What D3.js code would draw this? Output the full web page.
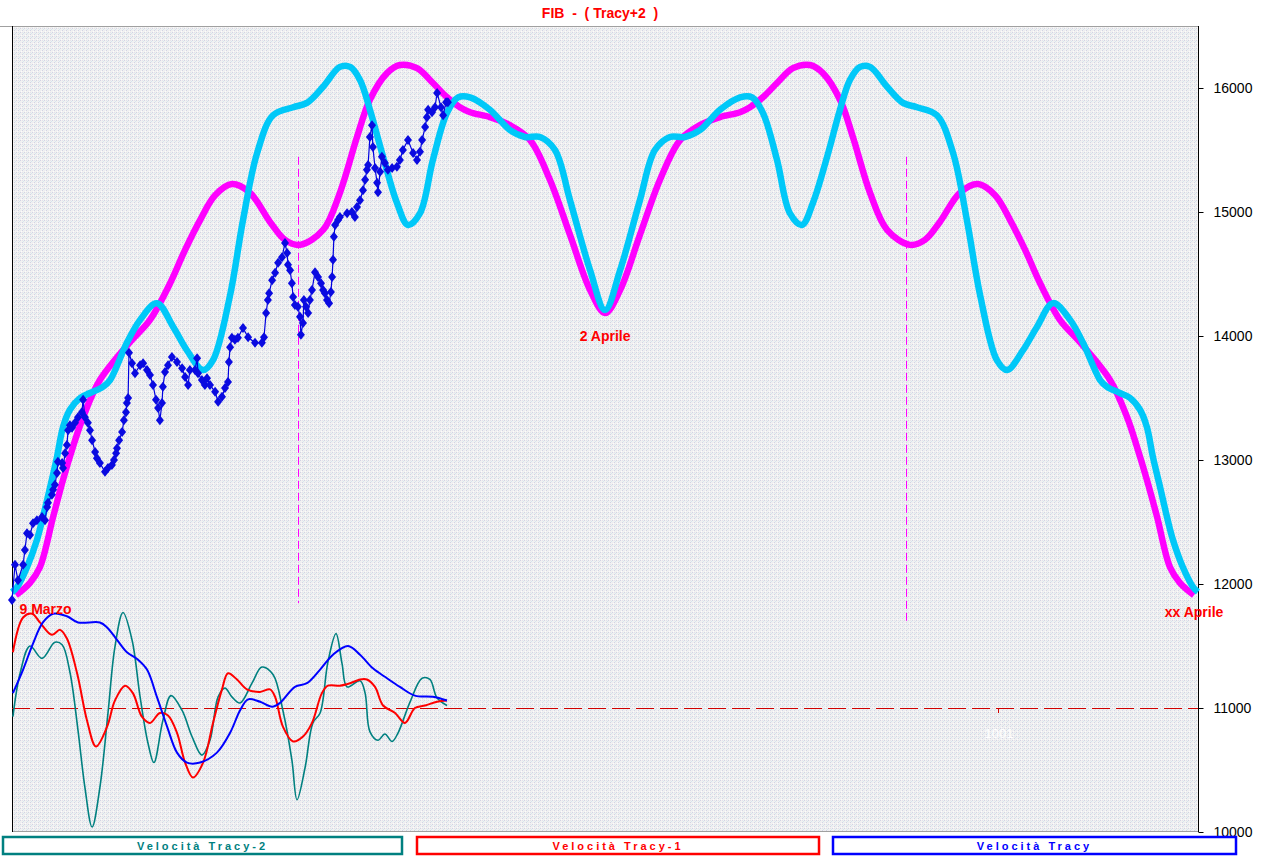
<!DOCTYPE html>
<html>
<head>
<meta charset="utf-8">
<script src="https://cdn.jsdelivr.net/npm/d3@7"></script>
<style>
  body { margin: 0; background: #fff; }
  svg { display: block; font-family: "Liberation Sans", Arial, sans-serif; }
</style>
</head>
<body>
<svg id="chart" width="1280" height="859"></svg>
<script>
// ---- data (t = session index, v = index points) ----
const magentaT = [1.3, 6, 9.3, 13.7, 17, 20.3, 23.7, 29.3, 39.3, 46, 52.7, 57.7, 62.7, 67.7, 73.3, 79.3, 86, 91, 96, 103.7, 109.3, 115, 119.3, 125, 129.3, 135, 140.3, 145, 149.3, 152.7, 159.3, 166, 172.7, 179.3, 186, 192.7, 197.7,
  202.7, 209.3, 216, 222.7, 229.3, 236, 242.7, 246, 250.3, 255, 260.3, 266, 270.3, 276, 280.3, 286, 291.7, 299.3, 304.3, 309.3, 316, 322, 327.7, 332.7, 337.7, 342.7, 349.3, 356, 366, 371.7, 375, 378.3, 381.7, 386, 389.3, 394];
const magentaV = [11910, 12010, 12135, 12540, 12840, 13105, 13345, 13645, 13950, 14130, 14425, 14695, 14935, 15135, 15225, 15155, 14920, 14775, 14735, 14855, 15155, 15605, 15905, 16120, 16185, 16160, 16040, 15925, 15845, 15805, 15765, 15700, 15580, 15260, 14815, 14370, 14185,
  14370, 14815, 15260, 15580, 15700, 15765, 15805, 15845, 15925, 16040, 16160, 16185, 16120, 15905, 15605, 15155, 14855, 14735, 14775, 14920, 15155, 15225, 15135, 14935, 14695, 14425, 14130, 13950, 13645, 13345, 13105, 12840, 12540, 12135, 12010, 11910];

const cyanT = [0, 1.7, 5, 8.3, 10.3, 12.7, 15, 17, 19.3, 22.7, 26, 30.3, 32.7, 38.3, 42.7, 48.3, 53.7, 58.3, 63.7, 67, 72.7, 77, 81.7, 87, 93.7, 98.3, 103.7, 109.3, 112.7, 116, 119.3, 123.7, 128.3, 132, 136, 140.3, 145, 148.7, 152.7, 159.3, 166, 171, 176, 181, 186, 192.7, 197.7,
  202.7, 209.3, 214.3, 219.3, 224.3, 229.3, 236, 242.7, 246.7, 250.3, 255, 259.3, 263.3, 267, 271.7, 276, 279.3, 282.7, 286, 291.7, 297, 301.7, 308.3, 313.7, 318.3, 322.7, 328.3, 331.7, 337, 341.7, 347, 352.7, 357, 362.7, 365, 369.3, 372.7, 376, 378.3, 380.3, 382.7, 385, 387, 390.3, 393.7, 395.3];
const cyanV = [11935, 11975, 12135, 12355, 12540, 12780, 13025, 13265, 13405, 13500, 13540, 13590, 13645, 13945, 14130, 14265, 14075, 13885, 13725, 13805, 14330, 14935, 15475, 15780, 15845, 15880, 16010, 16170, 16170, 16065, 15825, 15445, 15075, 14895, 14990, 15420, 15800, 15925, 15925, 15825, 15660, 15605, 15605, 15500, 15095, 14530, 14210,
  14530, 15095, 15500, 15605, 15605, 15660, 15825, 15925, 15925, 15800, 15420, 14990, 14895, 15075, 15445, 15825, 16065, 16170, 16170, 16010, 15880, 15845, 15780, 15475, 14935, 14330, 13805, 13725, 13885, 14075, 14265, 14130, 13945, 13645, 13590, 13540, 13500, 13405, 13265, 13025, 12780, 12540, 12355, 12135, 11975, 11935];

const fibT = [0, 1, 2, 3.7, 4.3, 5, 6, 7, 8.3, 10, 11, 11.7, 12, 13.3, 13.7, 14.3, 15, 15.3, 16.7, 17, 17.7, 18.3, 18.7, 19.3, 20, 21, 22, 23.3, 23.7, 24.3, 25.3, 26, 26.7, 27.7, 28.3, 29.3, 31, 32, 33.3, 34, 34.7, 35, 35.7, 36.7, 37.3, 38, 38.3, 38.7, 39,
  40, 41, 42.7, 43.7, 45, 46, 47, 48, 48.7, 49.3, 50, 50.3, 51, 52, 53.3, 55, 56.7, 57.7, 58.7, 59.3, 61, 61.7, 62, 63.3, 64.3, 65, 66, 67.7, 68.7, 70, 71, 72, 72.3, 72.7, 73.3, 74.3, 75.3, 77, 78.7, 81, 83.3, 84, 84.7, 85.3, 85.7, 86.7, 87.7, 88.7, 90, 91, 91.7, 92, 92.7, 93.3, 93.7, 94.3, 95.3, 96, 96.3, 97, 97.3, 98, 98.7, 99.3, 100,
  101, 102, 103, 103.7, 104.3, 105, 105.7, 106.3, 106.7, 107, 107.3, 107.7, 108.7, 109.3, 111.7, 113.3, 114.3, 115, 116, 117, 117.7, 118.3, 118.7, 119.3, 120, 120.3, 121, 121.7, 122, 122.7, 123.3, 124.3, 125.3, 126.7, 128.3, 129.3, 130.3, 132, 133.7, 135, 136, 136.7, 137.7, 138.3, 138.7, 140, 141, 141.7, 143, 143.7, 144.7, 145.3];
const fibV = [11870, 12155, 12030, 12155, 12275, 12410, 12395, 12490, 12515, 12540, 12515, 12620, 12655, 12720, 12760, 12800, 12895, 12985, 12975, 12935, 13055, 13120, 13240, 13280, 13260, 13300, 13345, 13385, 13485, 13345, 13300, 13240, 13160, 13065, 13015, 12975, 12905, 12935, 12960, 13000, 13055, 13095, 13160, 13225, 13320, 13385, 13460, 13500, 13865,
  13780, 13700, 13765, 13780, 13725, 13685, 13605, 13485, 13420, 13320, 13460, 13590, 13710, 13765, 13830, 13790, 13740, 13670, 13605, 13725, 13725, 13820, 13700, 13645, 13605, 13660, 13605, 13550, 13470, 13510, 13580, 13630, 13790, 13910, 13985, 13970, 13985, 14065, 13990, 13945, 13945, 13990, 14185, 14290, 14345, 14450, 14510, 14590, 14635, 14750, 14670, 14575, 14530, 14425, 14315, 14250, 14235, 14155, 14010, 14105, 14290, 14235, 14185, 14290, 14370,
  14515, 14475, 14425, 14370, 14345, 14290, 14265, 14355, 14475, 14615, 14800, 14895, 14935, 14960, 14990, 15000, 14960, 15040, 15095, 15175, 15260, 15340, 15380, 15605, 15700, 15525, 15355, 15235, 15160, 15325, 15445, 15395, 15340, 15355, 15365, 15420, 15500, 15580, 15475, 15420, 15485, 15580, 15685, 15765, 15825, 15805, 15845, 15960, 15845, 15780, 15885, 15885];

// velocity oscillators (zero = dashed line)
const velRedT = [0.3, 3.7, 6.7, 9.3, 13.3, 16, 18.3, 21.7, 25, 28, 31.7, 34.3, 37.7, 40.3, 43.3, 46, 49.3, 52, 55, 57.7, 60.3, 63.7, 67, 70, 72, 75, 78.3, 82.7, 86, 87.7, 90.3, 93.7, 97, 100, 103.3, 105.3, 109.3, 112.7, 116, 118.3, 121, 123.7, 127.7, 131, 134.3, 137.7, 141.7, 145];
const velRedV = [45, 73, 76, 69, 59, 63, 56, 28, -10, -31, -15, 6, 18, 12, -7, -12, -4, -6, -20, -44, -56, -44, -12, 15, 28, 23, 15, 13, 15, 9, -15, -27, -23, -12, 12, 18, 18, 20, 23, 23, 17, 2, -4, -12, 0, 2, 5, 6];
const velBlueT = [0.3, 3.7, 7, 10.3, 13.7, 18.3, 22, 29.3, 31.7, 35, 38.3, 42, 45, 48.3, 51.7, 55, 58.3, 62.7, 68.3, 72.7, 76, 78.7, 82.7, 86.7, 89.3, 94.3, 98.3, 102.7, 107, 112, 116, 120.3, 125, 129.3, 134.3, 140.3, 145];
const velBlueV = [12, 31, 52, 69, 76, 74, 69, 69, 65, 55, 45, 39, 31, 9, -15, -36, -44, -44, -36, -20, -2, 7, 5, 1, 4, 17, 20, 31, 43, 50, 43, 32, 24, 17, 10, 9, 6];
const velTealT = [0.3, 2.7, 6, 10, 14.3, 16.7, 19.3, 22, 24.3, 26.7, 29.3, 32, 34.3, 37, 40, 42.7, 45.3, 47.3, 50.3, 53, 56.7, 60, 63.3, 66, 68.7, 71, 73.3, 76, 80, 83.3, 87, 90.3, 93.3, 95, 97.7, 100.3, 102.7, 105.3, 108, 110, 111.7, 116, 117.7, 119.3, 122, 124.3, 126.7, 128.7, 132.7, 136.7, 139.3, 141.7, 145];
const velTealV = [-7, 28, 50, 40, 53, 51, 29, -18, -64, -96, -64, -4, 49, 77, 55, 9, -28, -44, -10, 10, -2, -23, -38, -26, 9, 16, 9, 4, 20, 33, 27, -2, -42, -74, -48, -12, -4, 37, 60, 36, 17, 22, 12, -19, -26, -21, -27, -20, 5, 24, 23, 8, 2];

const yTicks = [10000, 11000, 12000, 13000, 14000, 15000, 16000];
const cycleMarksT = [95.3, 298];
const cycleMarksTop = [15445, 15445];
const cycleMarksBottom = [11845, 11695];
const legendNames = ["Velocità Tracy-2", "Velocità Tracy-1", "Velocità Tracy"];
const legendColors = ["#008080", "#ff0000", "#0000ff"];

// ---- layout ----
const svg = d3.select("#chart");
const plotL = 12, plotR = 1198, plotT = 26, plotB = 832;

const x = d3.scaleLinear().domain([0, 395]).range([plotL, 1197]);
const y = d3.scaleLinear().domain([10000, 16500]).range([plotB, plotT]);
const vy = d3.scaleLinear().domain([-100, 100]).range([y(10000), y(12000)]);

// textured (dithered) background
const defs = svg.append("defs");
const pat = defs.append("pattern").attr("id", "bg").attr("width", 4).attr("height", 4)
  .attr("patternUnits", "userSpaceOnUse");
pat.append("rect").attr("width", 4).attr("height", 4).attr("fill", "#f1f1f1");
[[0,0,"#d2d3e4"],[2,2,"#d2d3e4"],[1,3,"#fbfbfb"],[3,1,"#d4e8ee"],[2,0,"#e2e2ea"],[0,2,"#ececf0"]].forEach(p => {
  pat.append("rect").attr("x", p[0]).attr("y", p[1]).attr("width", 1).attr("height", 1).attr("fill", p[2]);
});
svg.append("rect").attr("x", plotL).attr("y", plotT).attr("width", plotR - plotL).attr("height", plotB - plotT)
  .attr("fill", "url(#bg)");
svg.append("line").attr("x1", 0).attr("x2", plotR).attr("y1", plotT + 0.5).attr("y2", plotT + 0.5).attr("stroke", "#a0a0a0");
svg.append("line").attr("x1", plotL).attr("x2", plotR).attr("y1", plotB - 0.5).attr("y2", plotB - 0.5).attr("stroke", "#a0a0a0");
svg.append("line").attr("x1", plotL + 0.5).attr("x2", plotL + 0.5).attr("y1", plotT).attr("y2", plotB).attr("stroke", "#000");

// title
svg.append("text").attr("x", 600).attr("y", 18).attr("text-anchor", "middle")
  .attr("fill", "#ff0000").attr("font-weight", "bold").attr("font-size", 14)
  .attr("xml:space", "preserve").text("FIB  -  ( Tracy+2  )");

// right axis
const yAxis = svg.append("g").attr("transform", `translate(${plotR + 0.5},0)`)
  .call(d3.axisRight(y).tickValues(yTicks).tickSize(5).tickPadding(10).tickFormat(d3.format("d")));
yAxis.select(".domain").attr("d", `M0,${plotT}V${plotB}`).attr("stroke", "#000");
yAxis.selectAll("text").attr("font-size", 14).attr("fill", "#000")
  .attr("font-family", "'Liberation Sans', Arial, sans-serif");

// zero line of velocity
svg.append("line").attr("x1", plotL).attr("x2", plotR).attr("y1", vy(0) + 0.5).attr("y2", vy(0) + 0.5)
  .attr("stroke", "#d00000").attr("stroke-dasharray", "18,6");
svg.append("line").attr("x1", Math.round(x(328.7)) + 0.5).attr("x2", Math.round(x(328.7)) + 0.5)
  .attr("y1", vy(0)).attr("y2", vy(0) + 5).attr("stroke", "#d00000");
svg.append("text").attr("x", x(329)).attr("y", 738).attr("text-anchor", "middle")
  .attr("fill", "#fff").attr("font-size", 13).text("1001");

// cycle markers
cycleMarksT.forEach((t, i) => {
  const cx = Math.round(x(t)) + 0.5;
  svg.append("line").attr("x1", cx).attr("x2", cx)
    .attr("y1", y(cycleMarksTop[i])).attr("y2", y(cycleMarksBottom[i]))
    .attr("stroke", "#ff00ff").attr("stroke-dasharray", "8,4");
});

// smooth cycle curves
const zip = (ts, vs) => ts.map((t, i) => [t, vs[i]]);
const smooth = d3.line().x(d => x(d[0])).y(d => y(d[1])).curve(d3.curveCatmullRom.alpha(0.5));
svg.append("path").attr("d", smooth(zip(magentaT, magentaV)))
  .attr("fill", "none").attr("stroke", "#ff00ff").attr("stroke-width", 6.5);
svg.append("path").attr("d", smooth(zip(cyanT, cyanV)))
  .attr("fill", "none").attr("stroke", "#00c8f8").attr("stroke-width", 6.5);

// velocity lines
const vline = d3.line().x(d => x(d[0])).y(d => vy(d[1])).curve(d3.curveCatmullRom.alpha(0.5));
svg.append("path").attr("d", vline(zip(velTealT, velTealV)))
  .attr("fill", "none").attr("stroke", "#008080").attr("stroke-width", 1.6);
svg.append("path").attr("d", vline(zip(velRedT, velRedV)))
  .attr("fill", "none").attr("stroke", "#ff0000").attr("stroke-width", 2);
svg.append("path").attr("d", vline(zip(velBlueT, velBlueV)))
  .attr("fill", "none").attr("stroke", "#0000ff").attr("stroke-width", 2);

// FIB price
const fib = zip(fibT, fibV);
svg.append("path").attr("d", d3.line().x(d => x(d[0])).y(d => y(d[1]))(fib))
  .attr("fill", "none").attr("stroke", "#0000e0").attr("stroke-width", 1.2);
svg.append("g").selectAll("path").data(fib).join("path")
  .attr("transform", d => `translate(${x(d[0])},${y(d[1])})`)
  .attr("d", "M0,-5L4,0L0,5L-4,0Z")
  .attr("fill", "#0a0ae0");

// annotations
const note = (t, v, txt, anchor) => svg.append("text").attr("x", x(t)).attr("y", y(v))
  .attr("text-anchor", anchor).attr("fill", "#ff0000").attr("font-weight", "bold")
  .attr("font-size", 14).text(txt);
note(197.7, 13960, "2 Aprile", "middle");
note(2.5, 11760, "9 Marzo", "start");
note(394, 11735, "xx Aprile", "middle");

// legend boxes
const boxes = [[2, 403], [416, 820], [832, 1237]];
boxes.forEach((b, i) => {
  svg.append("rect").attr("x", b[0] + 1).attr("y", 837).attr("width", b[1] - b[0] - 2).attr("height", 17)
    .attr("fill", "#fff").attr("stroke", legendColors[i]).attr("stroke-width", 2.5);
  svg.append("text").attr("x", (b[0] + b[1]) / 2).attr("y", 849.5).attr("text-anchor", "middle")
    .attr("fill", legendColors[i]).attr("font-weight", "bold").attr("font-size", 11)
    .attr("letter-spacing", 3).text(legendNames[i]);
});
</script>
</body>
</html>
